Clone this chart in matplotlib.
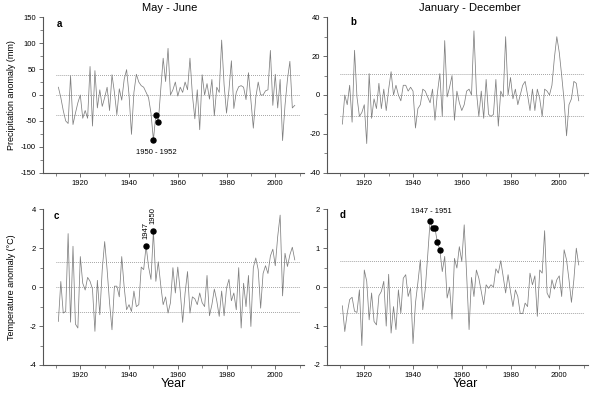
import numpy as np
import matplotlib
matplotlib.use('Agg')
import matplotlib.pyplot as plt
from matplotlib.ticker import MultipleLocator

plt.rcParams.update({'font.family': ['Liberation Sans', 'DejaVu Sans'], 'axes.unicode_minus': False})

# precipitation anomaly, May-June (mm), 1911-2008
prec_mj = [15, -5, -30, -50, -55, 37, -57, -35, -15, 0,
           -45, -30, -45, 55, -60, 47, -25, 10, -22, -5,
           15, -30, 39, 5, -38, 12, -10, 30, 49, 0,
           -76, 5, 40, 25, 18, 15, 5, -5, -35, -87,
           -38, -52, 10, 71, 26, 90, 0, 10, 25, -2,
           15, 5, 25, 10, 71, 0, -46, 10, -67, 39,
           0, 22, -8, 30, -40, 15, 5, 106, 20, -35,
           10, 66, -26, 5, 16, 18, 15, -9, 43, -10,
           -64, -5, 25, 0, 0, 8, 10, 86, -20, 40,
           -25, 30, -88, -20, 30, 65, -25, -20]
# precipitation anomaly, January-December (mm)
prec_jd = [-15, 0, -5, 5, -14, 23, -1, -11, -9, -5,
           -25, 11, -12, -2, -7, 6, -7, 3, -8, 3,
           12, 0, 5, 0, -3, 5, 5, 2, 4, 2,
           -17, -7, -5, 3, 2, -1, -4, 3, -13, 1,
           11, -11, 28, -1, 4, 10, -13, 2, -4, -8,
           -5, 2, 3, 0, 33, 2, -11, 2, -12, 8,
           -10, -11, -10, 8, -16, 2, -1, 30, 0, 9,
           -2, 3, -5, 0, 5, 7, 0, -8, 3, -8,
           3, -2, -11, 3, 2, 0, 5, 19, 30, 22,
           10, -3, -21, -5, -2, 7, 6, -3]
# temperature anomaly, May-June (deg C)
temp_mj = [-1.76, 0.29, -1.33, -1.25, 2.75, -1.8, 2.1, -1.9, -2.1, 1.57,
           0.2, -0.15, 0.5, 0.3, -0.1, -2.27, 0.35, -1.42, 0.9, 2.34,
           0.9, -0.8, -2.19, 0.05, 0.05, -0.5, 1.57, 0.0, -1.16, -0.9,
           -1.25, -0.2, -1.0, -0.9, 1.03, 0.9, 2.12, 1.05, 0.4, 2.89,
           0.3, 1.3, 0.1, -0.9, -0.5, -1.33, -0.8, 1.0, -0.3, 1.03,
           -0.2, -1.81, -0.3, 0.8, -1.33, -0.5, -0.6, -0.9, -0.3, -0.8,
           -1.0, 0.6, -1.47, -0.9, -0.1, -0.7, -1.5, -0.2, -1.47, -0.05,
           0.4, -0.7, -0.3, -1.16, 1.0, -2.1, 0.2, -1.0, 0.6, -2.02,
           1.0, 1.5, 0.9, -1.08, 0.7, 1.1, 0.7, 1.6, 1.95, 1.1,
           2.6, 3.7, -0.45, 1.74, 1.06, 1.66, 2.05, 1.4]
# temperature anomaly, January-December (deg C)
temp_jd = [-0.48, -1.14, -0.67, -0.32, -0.26, -0.62, -0.65, -0.07, -1.5, 0.44,
           0.15, -0.84, -0.15, -0.88, -0.97, -0.22, -0.11, 0.15, -1.0, 0.33,
           -1.18, -0.5, -1.09, -0.07, -0.67, 0.23, 0.32, -0.24, -0.03, -1.45,
           -0.41, 0.12, 0.7, -0.58, -0.07, 0.79, 1.7, 1.51, 1.51, 1.15,
           0.96, 0.4, 0.79, -0.28, 0.0, -0.82, 0.74, 0.49, 1.04, 0.66,
           1.6, 0.32, -1.09, 0.25, -0.24, 0.44, 0.23, -0.11, -0.45, 0.06,
           -0.03, 0.06, 0.0, 0.47, 0.36, 0.68, 0.27, -0.15, 0.32, -0.11,
           -0.5, -0.07, -0.24, -0.68, -0.68, -0.41, -0.5, 0.36, 0.06, 0.29,
           -0.75, 0.44, 0.36, 1.45, -0.15, -0.28, 0.19, -0.05, 0.19, 0.29,
           -0.24, 0.96, 0.7, 0.19, -0.39, 0.19, 1.0, 0.57]

thresholds = [38.6, 10.7, 1.28, 0.67]
marked = [[1950, 1951, 1952], [], [1947, 1950], [1947, 1948, 1949, 1950, 1951]]

fig = plt.figure(figsize=(6, 4.03), dpi=100, facecolor='white')
rects = [(0.0717, 0.5715, 0.435, 0.3856), (0.545, 0.5715, 0.435, 0.3856),
         (0.0717, 0.0943, 0.435, 0.3864), (0.545, 0.0943, 0.435, 0.3864)]
series = [prec_mj, prec_jd, temp_mj, temp_jd]
ylims = [150, 40, 4, 2]
ysteps = [50, 20, 2, 1]
letters = ['a', 'b', 'c', 'd']
letter_pos = [(0.061, 0.957), (0.10, 0.97), (0.052, 0.957), (0.061, 0.963)]

axes = []
for i in range(4):
    ax = fig.add_axes(rects[i])
    vals = np.array(series[i])
    yrs = np.arange(1911, 1911 + len(vals))
    ax.plot(yrs, vals, color='#808080', lw=0.55)
    for t in (-thresholds[i], 0, thresholds[i]):
        ax.plot([1910, 2010], [t, t], color='#707070', lw=0.55, ls=(0, (1, 1.6)))
    if marked[i]:
        m = np.isin(yrs, marked[i])
        ax.plot(yrs[m], vals[m], 'o', color='black', ms=3.6, zorder=5)
    ax.set_xlim(1904.7, 2011.8)
    ax.set_ylim(-ylims[i], ylims[i])
    ax.xaxis.set_minor_locator(MultipleLocator(10))
    ax.set_xticks([1920, 1940, 1960, 1980, 2000])
    ax.yaxis.set_major_locator(MultipleLocator(ysteps[i]))
    ax.yaxis.set_minor_locator(MultipleLocator(ysteps[i] / 2))
    for s in ('top', 'right'):
        ax.spines[s].set_visible(False)
    for s in ('left', 'bottom'):
        ax.spines[s].set_color('#555555')
        ax.spines[s].set_linewidth(0.8)
    ax.tick_params(which='major', length=3, width=0.6, color='#555555', labelsize=5.5, pad=2)
    ax.tick_params(which='minor', length=2, width=0.5, color='#555555')
    ax.text(letter_pos[i][0], letter_pos[i][1], letters[i], transform=ax.transAxes,
            fontsize=7, fontweight='bold', ha='center', va='center')
    axes.append(ax)

axes[0].text(1951, -111, '1950 - 1952', fontsize=5.5, ha='center', va='center')
axes[2].text(1947, 2.45, '1947', fontsize=5.5, rotation=90, ha='center', va='bottom')
axes[2].text(1950, 3.25, '1950', fontsize=5.5, rotation=90, ha='center', va='bottom')
axes[3].text(1947.6, 1.94, '1947 - 1951', fontsize=5.5, ha='center', va='center')

fig.text(0.283, 0.98, 'May - June', fontsize=8, ha='center', va='center')
fig.text(0.783, 0.98, 'January - December', fontsize=8, ha='center', va='center')
fig.text(0.02, 0.764, 'Precipitation anomaly (mm)', fontsize=6.5, rotation=90, ha='center', va='center')
fig.text(0.02, 0.288, 'Temperature anomaly (°C)', fontsize=6.5, rotation=90, ha='center', va='center')
fig.text(0.289, 0.047, 'Year', fontsize=9, ha='center', va='center')
fig.text(0.775, 0.047, 'Year', fontsize=9, ha='center', va='center')

fig.savefig('out.png', dpi=100, facecolor='white')
